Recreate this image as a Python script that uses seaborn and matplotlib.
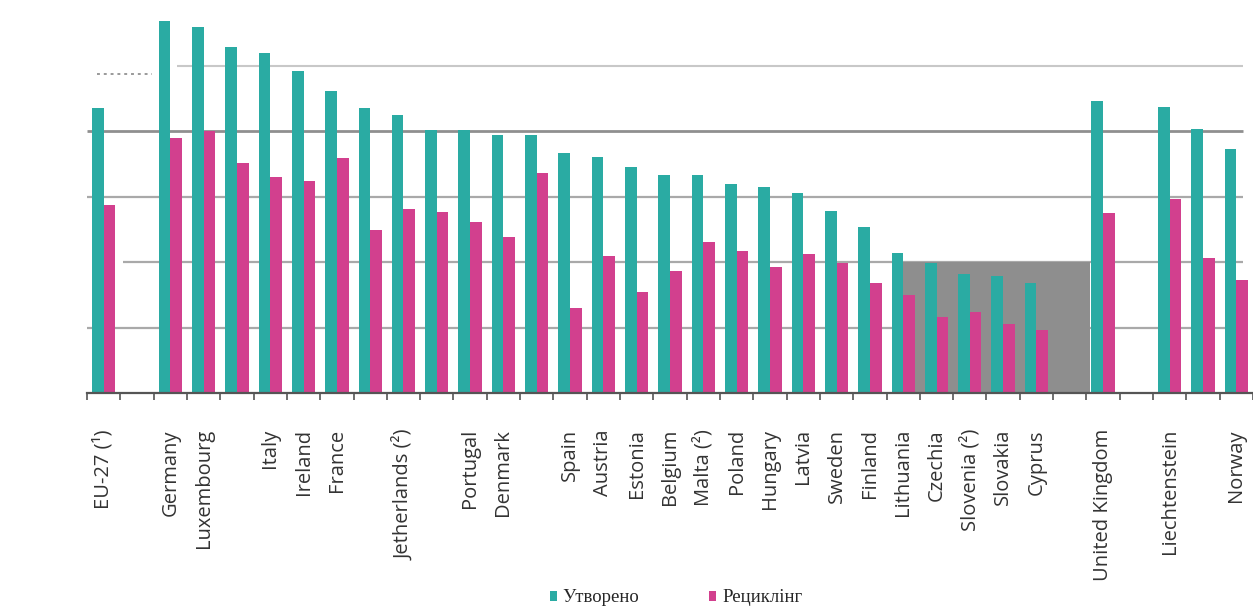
import matplotlib
matplotlib.use("Agg")
import matplotlib.pyplot as plt
from matplotlib.patches import Rectangle
from matplotlib.ticker import FixedLocator
import seaborn as sns
import pandas as pd

# Packaging waste per inhabitant, kg: generated vs recycled.
# None marks an empty slot on the axis, "" a bar pair without a printed name.
labels = [
    "EU-27 (¹)", None,
    "Germany", "Luxembourg", "", "Italy", "Ireland", "France", "",
    "Jetherlands (²)", "", "Portugal", "Denmark", "", "Spain", "Austria",
    "Estonia", "Belgium", "Malta (²)", "Poland", "Hungary", "Latvia",
    "Sweden", "Finland", "Lithuania", "Czechia", "Slovenia (²)", "Slovakia",
    "Cyprus", None,
    "United Kingdom", None,
    "Liechtenstein", "", "Norway",
]
generated = [
    174, None,
    227.4, 223.7, 211.5, 207.8, 196.8, 184.4, 173.9,
    169.8, 160.6, 160.6, 157.6, 157.6, 146.4, 144.3,
    138.2, 133.1, 133.1, 127.6, 125.6, 122.0,
    111.3, 101.6, 85.7, 79.2, 72.7, 71.5,
    67.4, None,
    178.5, None,
    174.5, 161.0, 148.8,
]
recycled = [
    114.8, None,
    155.5, 160.0, 140.6, 132.1, 129.6, 143.3, 99.5,
    112.2, 110.4, 104.6, 95.5, 134.2, 51.7, 83.7,
    61.9, 74.5, 92.0, 86.9, 76.8, 84.7,
    79.4, 67.4, 59.8, 46.2, 49.6, 42.1,
    38.5, None,
    110.1, None,
    118.5, 82.3, 69.0,
]
series_names = ["Утворено", "Рециклінг"]
grid_values = [40, 80, 120, 160, 200]

rows = []
for slot, (g, r) in enumerate(zip(generated, recycled)):
    if g is None:
        continue
    rows.append({"slot": slot, "series": series_names[0], "value": g})
    rows.append({"slot": slot, "series": series_names[1], "value": r})
df = pd.DataFrame(rows)

sns.set_theme(style="white")
plt.rcParams["font.family"] = ["Open Sans", "DejaVu Sans"]

W, H = 1253, 610
fig = plt.figure(figsize=(W / 100, H / 100), dpi=100)
ax = fig.add_axes([87 / W, (H - 393) / H, (W - 87) / W, 393 / H])

n = len(labels)
palette = {series_names[0]: "#2AABA3", series_names[1]: "#D2408E"}
sns.barplot(data=df, x="slot", y="value", hue="series", order=list(range(n)),
            hue_order=series_names, palette=palette, width=0.7, errorbar=None,
            saturation=1, linewidth=0, ax=ax)

ax.set_xlim(-0.5, n - 0.5)
ax.set_ylim(0, 240)

# horizontal guide lines
line_kw = dict(color="#a9a9a9", linewidth=1.6, zorder=0.5)
ax.hlines(grid_values[0], -0.5, 34.2, **line_kw)
ax.hlines(grid_values[1], 0.57, 34.2, **line_kw)
ax.hlines(grid_values[2], -0.5, 34.2, **line_kw)
ax.hlines(grid_values[3], -0.5, 34.2, color="#8f8f8f", linewidth=2.0, zorder=0.5)
ax.hlines(grid_values[4], 2.2, 34.2, color="#c8c8c8", linewidth=1.5, zorder=0.5)
ax.hlines(195, -0.2, 1.45, color="#9a9a9a", linewidth=1.4,
          linestyles=(0, (1.5, 2.0)), zorder=0.5)

# shaded band behind the lowest group
ax.add_patch(Rectangle((24.0, 0), 5.6, grid_values[1], facecolor="#8e8e8e",
                       edgecolor="none", zorder=0.8))

for side in ("left", "right", "top"):
    ax.spines[side].set_visible(False)
ax.spines["bottom"].set_color("#555555")
ax.spines["bottom"].set_linewidth(1.6)
ax.set_yticks([])
ax.set_xlabel("")
ax.set_ylabel("")

ax.set_xticks(list(range(n)))
ax.set_xticklabels([lab if lab else "" for lab in labels], rotation=90,
                   fontsize=14.5, color="#333333")
ax.tick_params(axis="x", which="major", length=0, pad=26)
ax.xaxis.set_minor_locator(FixedLocator([k - 0.5 for k in range(n + 1)]))
ax.tick_params(axis="x", which="minor", bottom=True, length=5, width=1.2,
               color="#555555", direction="out")

handles, names = ax.get_legend_handles_labels()
ax.legend(handles, names, loc="center", bbox_to_anchor=(676 / W, 12 / H),
          bbox_transform=fig.transFigure, ncol=2, frameon=False,
          prop={"family": "Liberation Serif", "size": 13.5},
          handlelength=0.4, handleheight=0.4, handletextpad=0.3,
          columnspacing=3.7)

fig.savefig("out.png", dpi=100, facecolor="white")
